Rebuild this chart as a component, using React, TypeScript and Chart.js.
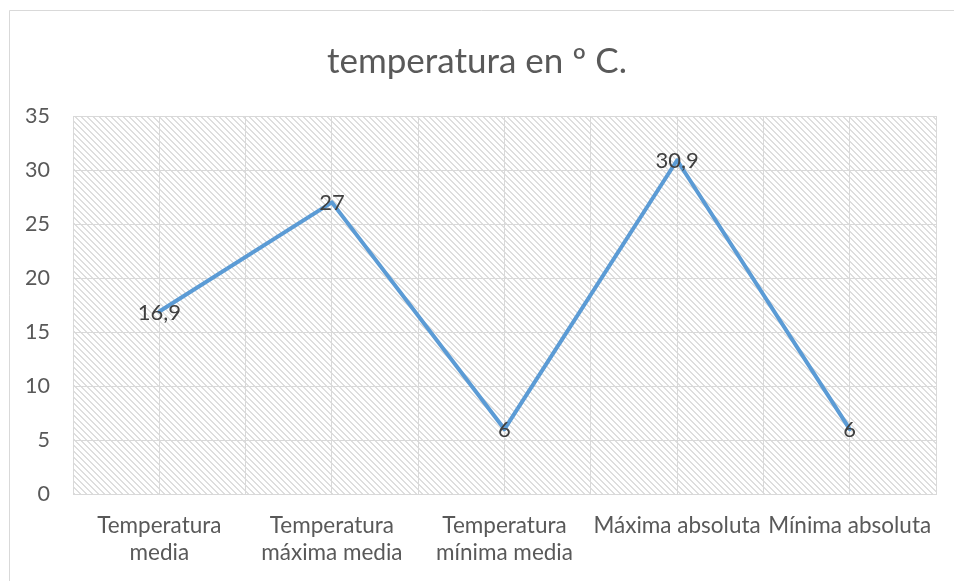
import React, { useEffect, useRef } from 'react';
import { Chart, registerables } from 'chart.js';

Chart.register(...registerables);

const titleText = 'temperatura en º C.';
const categories: string[][] = [
  ['Temperatura', 'media'],
  ['Temperatura', 'máxima media'],
  ['Temperatura', 'mínima media'],
  ['Máxima absoluta'],
  ['Mínima absoluta'],
];
const values = [16.9, 27, 6, 30.9, 6];
const valueLabels = ['16,9', '27', '6', '30,9', '6'];
const yMin = 0;
const yMax = 35;
const yStep = 5;

const FONT = 'Lato, "Open Sans", sans-serif';

function makeHatch(): CanvasPattern | string {
  const c = document.createElement('canvas');
  c.width = 6;
  c.height = 6;
  const g = c.getContext('2d');
  if (!g) return '#fff';
  g.fillStyle = '#ffffff';
  g.fillRect(0, 0, 6, 6);
  g.fillStyle = 'rgb(222,222,222)';
  for (let x = 0; x < 6; x++) {
    for (let y = 0; y < 6; y++) {
      const d = (((x - y) % 6) + 6) % 6;
      if (d === 0 || d === 1) g.fillRect(x, y, 1, 1);
    }
  }
  const p = g.createPattern(c, 'repeat');
  return p || '#fff';
}

export default function App() {
  const ref = useRef<HTMLCanvasElement | null>(null);

  useEffect(() => {
    if (!ref.current) return;
    const hatch = makeHatch();

    const bgPlugin = {
      id: 'bgHatch',
      beforeDraw(chart: any) {
        const { ctx, chartArea } = chart;
        ctx.save();
        ctx.fillStyle = '#ffffff';
        ctx.fillRect(0, 0, chart.width, chart.height);
        ctx.fillStyle = hatch;
        ctx.fillRect(chartArea.left, chartArea.top, chartArea.right - chartArea.left, chartArea.bottom - chartArea.top);
        ctx.strokeStyle = '#D9D9D9';
        ctx.lineWidth = 1;
        ctx.beginPath();
        ctx.moveTo(9.5, chart.height);
        ctx.lineTo(9.5, 10.5);
        ctx.lineTo(chart.width, 10.5);
        ctx.stroke();
        ctx.restore();
      },
    };

    const labelPlugin = {
      id: 'valueLabels',
      afterDatasetsDraw(chart: any) {
        const { ctx } = chart;
        const meta = chart.getDatasetMeta(0);
        ctx.save();
        ctx.font = `22px ${FONT}`;
        ctx.fillStyle = '#404040';
        ctx.textAlign = 'center';
        ctx.textBaseline = 'middle';
        meta.data.forEach((pt: any, i: number) => {
          ctx.fillText(valueLabels[i], pt.x, pt.y + 1);
        });
        ctx.restore();
      },
    };

    const chart = new Chart(ref.current, {
      type: 'line',
      data: {
        datasets: [
          {
            data: values.map((v, i) => ({ x: i, y: v })),
            borderColor: '#5B9BD5',
            borderWidth: 4,
            pointRadius: 0,
            tension: 0,
            borderJoinStyle: 'round',
            borderCapStyle: 'round',
          },
        ],
      },
      options: {
        animation: false,
        responsive: false,
        layout: { padding: { left: 14, right: 14, top: 0, bottom: 0 } },
        plugins: {
          legend: { display: false },
          tooltip: { enabled: false },
          title: {
            display: true,
            text: titleText,
            color: '#595959',
            font: { family: FONT, size: 35, weight: 'normal' },
            padding: { top: 41, bottom: 33 },
          },
        },
        scales: {
          x: {
            type: 'linear',
            min: -0.5,
            max: categories.length - 0.5,
            grid: { color: '#D9D9D9', drawTicks: false },
            border: { color: '#D9D9D9' },
            ticks: {
              stepSize: 0.5,
              autoSkip: false,
              maxRotation: 0,
              padding: 18,
              color: '#595959',
              font: { family: FONT, size: 22.5, lineHeight: 1.2 },
              callback: (v: any) => (Number.isInteger(v) ? categories[v] : ''),
            },
            afterFit: (s: any) => {
              s.height = 87;
            },
          },
          y: {
            min: yMin,
            max: yMax,
            grid: { color: '#D9D9D9', drawTicks: false },
            border: { display: false },
            ticks: {
              stepSize: yStep,
              padding: 23,
              color: '#595959',
              font: { family: FONT, size: 21.5 },
            },
            afterFit: (s: any) => {
              s.width = 59;
            },
          },
        },
      },
      plugins: [bgPlugin, labelPlugin],
    } as any);

    return () => chart.destroy();
  }, []);

  return (
    <div style={{ position: 'absolute', left: 0, top: 0, width: 954, height: 581 }}>
      <canvas ref={ref} width={954} height={581} style={{ display: 'block' }} />
    </div>
  );
}
